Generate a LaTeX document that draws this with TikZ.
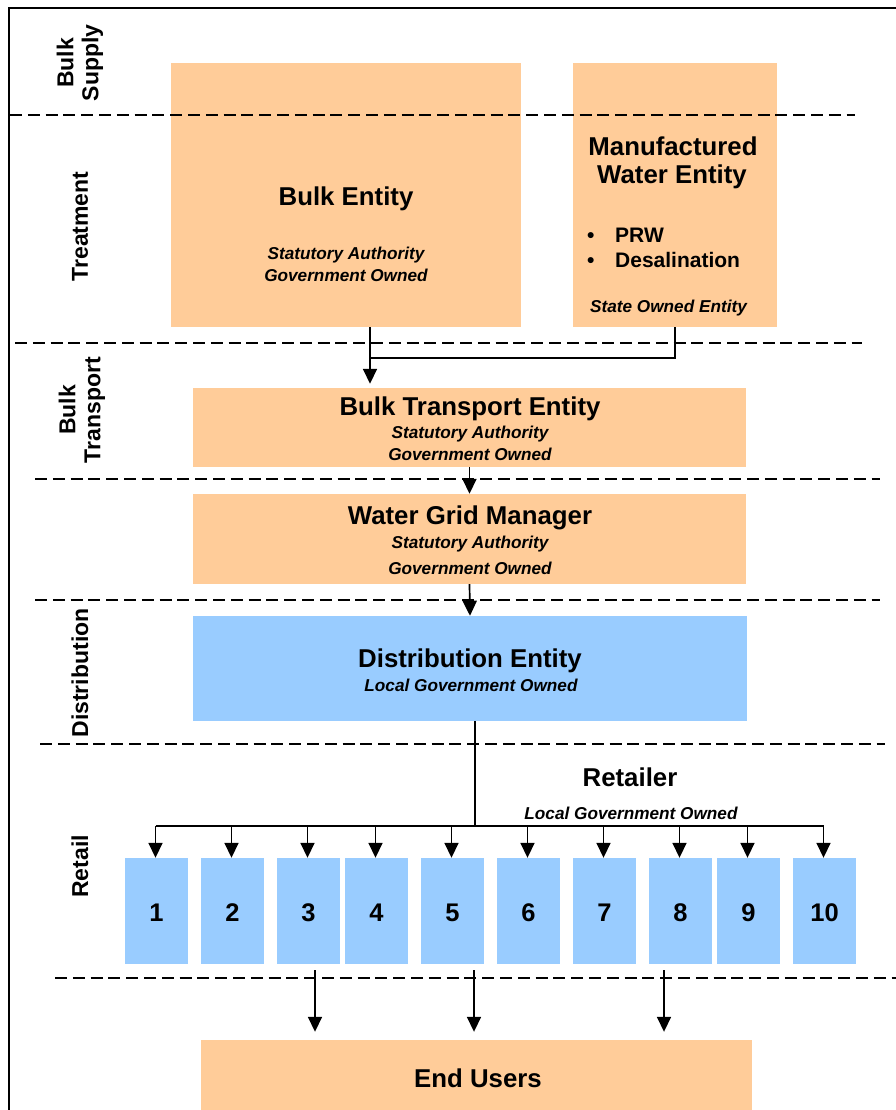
\documentclass[tikz,border=0pt]{standalone}
\usepackage{fontspec}
\setmainfont{Liberation Sans}
\usetikzlibrary{arrows.meta,calc}
\definecolor{peach}{HTML}{FFCC99}
\definecolor{skyb}{HTML}{99CCFF}
\newcommand{\fsz}[1]{\fontsize{#1}{#1}\selectfont}
\begin{document}
\begin{tikzpicture}[x=1pt,y=-1pt,
  obox/.style={fill=peach,draw=none,inner sep=0pt},
  bbox/.style={fill=skyb,draw=none,inner sep=0pt},
  ttl/.style={font=\fsz{25.8}\bfseries,inner sep=0pt},
  sub/.style={font=\fsz{17.2}\bfseries\itshape,inner sep=0pt},
  side/.style={font=\fsz{23}\bfseries,rotate=90,inner sep=0pt,align=center},
  num/.style={font=\fsz{25.5}\bfseries,inner sep=0pt},
  blt/.style={font=\fsz{21}\bfseries,inner sep=0pt,anchor=base west},
  sep/.style={line width=2pt,dash pattern=on 12pt off 5.8pt},
  wire/.style={line width=1.7pt},
  arr/.style={line width=1.7pt,-{Triangle[length=15pt,width=14pt]}}]
\useasboundingbox (0,0) rectangle (896,1110);
% frame
\draw[line width=2.5pt] (896,8) -- (9,8) -- (9,1112);
% boxes
\node[obox,minimum width=350pt,minimum height=264pt] (bulk) at (346,195) {};
\node[obox,minimum width=204pt,minimum height=264pt] (manu) at (675,195) {};
\node[obox,minimum width=553pt,minimum height=79pt] (trans) at (469.5,427.5) {};
\node[obox,minimum width=553pt,minimum height=90pt] (grid) at (469.5,539) {};
\node[bbox,minimum width=554pt,minimum height=105pt] (dist) at (470,668.5) {};
\foreach \i/\x in {1/156.5,2/232.5,3/308.5,4/376.5,5/452.5,6/528.5,7/604.5,8/680.5,9/748.5,10/824.5}
  \node[bbox,minimum width=63pt,minimum height=106pt] (r\i) at (\x,911) {};
\node[obox,minimum width=551pt,minimum height=72pt] (endu) at (476.5,1076) {};
% texts
\node[ttl] (tbulk) at (346,199) {Bulk Entity};
\node[sub] (sbulk1) at (346,255) {Statutory Authority};
\node[sub] (sbulk2) at (346,275) {Government Owned};
\node[ttl] (tmanu1) at (673,146) {Manufactured};
\node[ttl] (tmanu2) at (672,177) {Water Entity};
\node[blt] (bul1) at (587,242) {\textbullet};
\node[blt] (prw) at (615,242) {PRW};
\node[blt] (bul2) at (587,267) {\textbullet};
\node[blt] (desal) at (615,267) {Desalination};
\node[sub] (smanu) at (668.5,308) {State Owned Entity};
\node[ttl] (ttrans) at (470,409) {Bulk Transport Entity};
\node[sub] (strans1) at (470,434) {Statutory Authority};
\node[sub] (strans2) at (470,454) {Government Owned};
\node[ttl] (tgrid) at (470,518) {Water Grid Manager};
\node[sub] (sgrid1) at (470,544) {Statutory Authority};
\node[sub] (sgrid2) at (470,568) {Government Owned};
\node[ttl] (tdist) at (470,661) {Distribution Entity};
\node[sub] (sdist) at (471,685) {Local Government Owned};
\node[ttl] (tret) at (630,777) {Retailer};
\node[sub] (sret) at (631,813) {Local Government Owned};
\foreach \i in {1,...,10} \node[num] (n\i) at ($(r\i)+(0,2)$) {\i};
\node[ttl] (tend) at (478,1078) {End Users};
% side labels
\node[side] (lsup) at (80,63) {Bulk\\[2pt]Supply};
\node[side] (ltreat) at (80,226.5) {Treatment};
\node[side] (ltrans) at (82,410) {Bulk\\[2pt]Transport};
\node[side] (ldist) at (80,673) {Distribution};
\node[side] (lret) at (80,866.5) {Retail};
% separators
\draw[sep] (10,115) -- (855,115);
\draw[sep] (15,343) -- (862,343);
\draw[sep] (35,479) -- (880,479);
\draw[sep] (35,600) -- (880,600);
\draw[sep] (40,744) -- (885,744);
\draw[sep] (55,978) -- (896,978);
% connectors
\coordinate (join) at (370,358);
\draw[arr,shorten >=4pt] ([xshift=24pt]bulk.south) -- ([xshift=24pt]bulk.south |- trans.north);
\draw[wire] (manu.south) |- (join);
\draw[arr] (trans.south) -- (grid.north);
\draw[arr] (grid.south) -- (dist.north);
\coordinate (bus) at (475,826);
\draw[wire] (dist.south -| bus) -- (bus);
\draw[wire] ([xshift=-1pt]r1.north |- bus) -- ([xshift=-1pt]r10.north |- bus);
\foreach \i in {1,...,10}
  \draw[arr] ([xshift=-1pt]r\i.north |- bus) -- ([xshift=-1pt]r\i.north);
\draw[arr,shorten <=6pt,shorten >=8pt] ([xshift=6.5pt]r3.south) -- ([xshift=6.5pt]r3.south |- endu.north);
\draw[arr,shorten <=6pt,shorten >=8pt] ([xshift=21.5pt]r5.south) -- ([xshift=21.5pt]r5.south |- endu.north);
\draw[arr,shorten <=6pt,shorten >=8pt] ([xshift=-16.5pt]r8.south) -- ([xshift=-16.5pt]r8.south |- endu.north);
\end{tikzpicture}
\end{document}
